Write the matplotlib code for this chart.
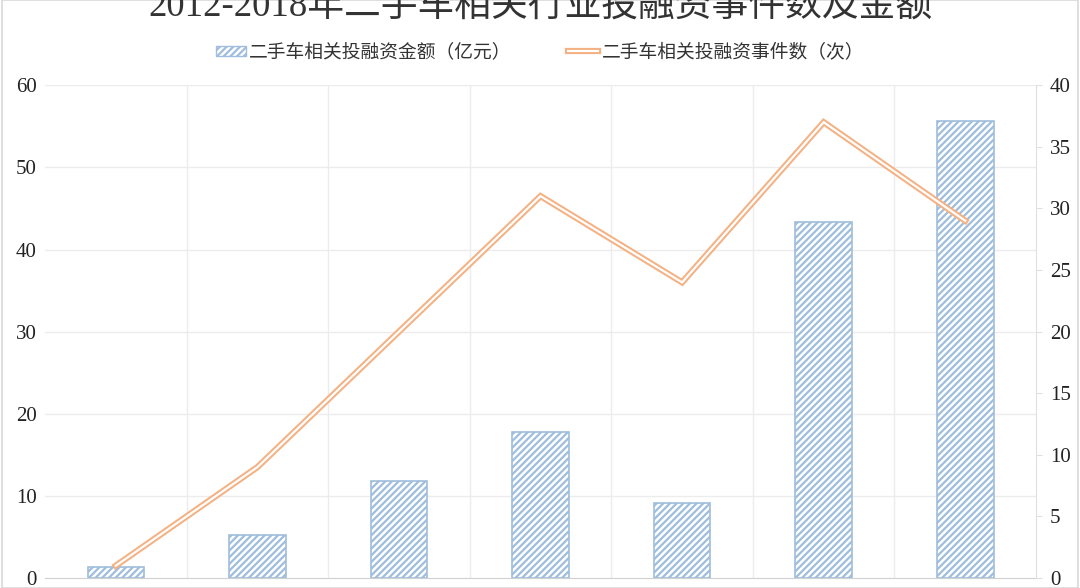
import numpy as np
import matplotlib.pyplot as plt
from matplotlib.patches import Rectangle
from matplotlib.lines import Line2D
import matplotlib.patheffects as pe

plt.rcParams['font.family'] = ['Noto Sans CJK SC', 'DejaVu Sans']
plt.rcParams['hatch.linewidth'] = 1.6

years = ['2012', '2013', '2014', '2015', '2016', '2017', '2018']
amount = [1.3, 5.2, 11.8, 17.8, 9.1, 43.3, 55.6]   # 亿元
events = [1, 9, 20, 31, 24, 37, 29]                 # 次

bar_color = '#9fbddc'
line_color = '#f4b183'
grid_color = '#ececec'
tick_font = {'family': ['Liberation Serif', 'DejaVu Serif'], 'size': 15, 'color': '#222222'}

fig = plt.figure(figsize=(10.8, 5.88), dpi=100)
ax = fig.add_axes([0.0417, 0.017, 0.9176, 0.838])
ax2 = ax.twinx()

x = np.arange(len(years))
ax.bar(x, amount, width=0.4, color='white', edgecolor=bar_color, hatch='/////',
       linewidth=1.2, zorder=2)

# double line: wide orange with a thin white core
ax2.plot(x, events, color=line_color, lw=4.5, solid_joinstyle='miter', zorder=3)
ax2.plot(x, events, color='white', lw=1.6, solid_joinstyle='miter', zorder=4)

ax.set_xlim(-0.5, len(years) - 0.5)
ax.set_ylim(0, 60)
ax2.set_ylim(0, 40)
ax.set_yticks(range(0, 61, 10))
ax2.set_yticks(range(0, 41, 5))
ax.set_xticks(x)
ax.set_xticklabels(years)

for v in range(10, 61, 10):
    ax.axhline(v, color=grid_color, lw=1, zorder=0)
for b in np.arange(0.5, len(years) - 0.5, 1):
    ax.axvline(b, color=grid_color, lw=1, zorder=0)

for a in (ax, ax2):
    for s in a.spines.values():
        s.set_visible(False)
ax.spines['bottom'].set_visible(True)
ax.spines['bottom'].set_color('#d0d0d0')
ax2.spines['right'].set_visible(True)
ax2.spines['right'].set_color('#e0e0e0')

ax.tick_params(axis='y', length=0, pad=6)
ax.tick_params(axis='x', length=0, pad=14)
ax2.tick_params(axis='y', length=4, color='#e0e0e0', pad=6)
for lbl in ax.get_yticklabels() + ax2.get_yticklabels() + ax.get_xticklabels():
    lbl.set_fontfamily(tick_font['family'])
    lbl.set_fontsize(tick_font['size'])
    lbl.set_color(tick_font['color'])

fig.text(0.5, 0.99, '2012-2018年二手车相关行业投融资事件数及金额', ha='center', va='center',
         fontsize=26.5, color='#333333',
         family=['Liberation Serif', 'Noto Sans CJK SC', 'DejaVu Sans'])

h_bar = Rectangle((0, 0), 1, 1, facecolor='white', edgecolor=bar_color, hatch='/////', lw=1)
h_line = Line2D([], [], color='white', lw=1.5,
                path_effects=[pe.Stroke(linewidth=4.5, foreground=line_color), pe.Normal()])
leg = fig.legend([h_bar, h_line], ['二手车相关投融资金额（亿元）', '二手车相关投融资事件数（次）'],
                 loc='center', bbox_to_anchor=(0.5, 0.912), ncol=2, frameon=False,
                 fontsize=13.5, handlelength=1.6, handleheight=0.45, handletextpad=0.2,
                 columnspacing=3)
for t in leg.get_texts():
    t.set_color('#333333')

fig.add_artist(Rectangle((0.002, 0.0), 0.996, 1.0, transform=fig.transFigure, fill=False,
                         edgecolor='#d9d9d9', lw=1.2))

fig.savefig('out.png', dpi=100)
